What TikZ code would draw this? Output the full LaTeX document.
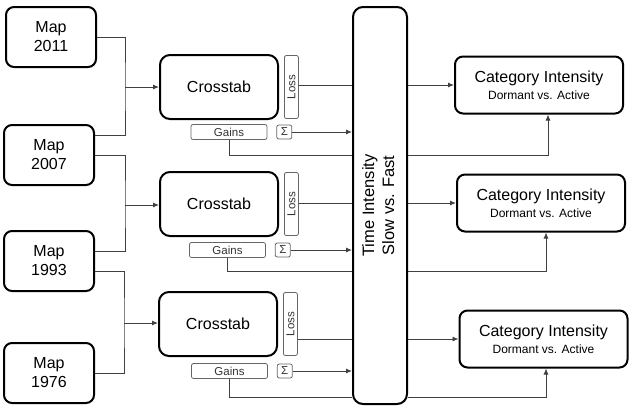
\documentclass[tikz,border=0pt]{standalone}
\usepackage{fontspec}
\setmainfont{Liberation Sans}
\usepackage{graphicx}
\usetikzlibrary{arrows.meta, positioning}

\begin{document}
\begin{tikzpicture}[
    x=1pt, y=-1pt,
    node distance=5pt,
    mapbox/.style={draw, line width=2pt, rounded corners=8pt, minimum width=90pt, minimum height=60pt, align=center, font=\fontsize{16}{19}\selectfont},
    tabbox/.style={draw, line width=2pt, rounded corners=10pt, minimum width=118pt, minimum height=64pt, font=\fontsize{16}{19}\selectfont},
    tag/.style={draw=black!60, line width=0.8pt, rounded corners=2pt, inner sep=1pt, font=\fontsize{11.5}{12}\selectfont, text=black!80},
    timebox/.style={draw, fill=white, line width=2pt, rounded corners=10pt, minimum width=54pt, minimum height=397pt, font=\fontsize{16.5}{20}\selectfont},
    catbox/.style={draw, line width=2pt, rounded corners=8pt, minimum width=168pt, minimum height=57pt, align=center, font=\fontsize{16}{17}\selectfont},
    link/.style={draw=black!75, line width=0.9pt},
    arr/.style={link, -{Latex[length=6pt, width=5pt]}}
]
\useasboundingbox (0,0) rectangle (631,408);

\node[mapbox] (map2011) at (51,37) {Map\\2011};
\node[mapbox] (map2007) at (49,155) {Map\\2007};
\node[mapbox] (map1993) at (49,261) {Map\\1993};
\node[mapbox] (map1976) at (49,373) {Map\\1976};

\node[tabbox] (tab1) at (219,87) {Crosstab};
\node[tabbox] (tab2) at (219,204) {Crosstab};
\node[tabbox] (tab3) at (218,324) {Crosstab};

\node[tag, minimum width=14pt, minimum height=63pt, right=of tab1] (loss1) {\rotatebox{90}{Loss}};
\node[tag, minimum width=14pt, minimum height=63pt, right=of tab2] (loss2) {\rotatebox{90}{Loss}};
\node[tag, minimum width=14pt, minimum height=63pt, right=of tab3] (loss3) {\rotatebox{90}{Loss}};

\node[tag, minimum width=76pt, minimum height=15pt] (gains1) at (229,132) {Gains};
\node[tag, minimum width=76pt, minimum height=15pt] (gains2) at (227.5,250) {Gains};
\node[tag, minimum width=76pt, minimum height=15pt] (gains3) at (229.5,371) {Gains};

\node[tag, minimum width=15pt, minimum height=14pt, right=9pt of gains1] (sum1) {Σ};
\node[tag, minimum width=15pt, minimum height=14pt, right=9pt of gains2] (sum2) {Σ};
\node[tag, minimum width=15pt, minimum height=14pt, right=9pt of gains3] (sum3) {Σ};

\node[timebox] (time) at (380,205.5) {\rotatebox{90}{\begin{tabular}{@{}c@{}}Time Intensity\\Slow vs. Fast\end{tabular}}};

\node[catbox] (cat1) at (539,85) {Category Intensity\\{\fontsize{12}{14}\selectfont Dormant vs. Active}};
\node[catbox] (cat2) at (541,203) {Category Intensity\\{\fontsize{12}{14}\selectfont Dormant vs. Active}};
\node[catbox] (cat3) at (543.5,339) {Category Intensity\\{\fontsize{12}{14}\selectfont Dormant vs. Active}};

\coordinate (j1) at (125,87);
\coordinate (j2) at (125,205);
\coordinate (j3) at (124,323);
\coordinate (g1) at (548,155);
\coordinate (g2) at (546,271);
\coordinate (g3) at (546,397);

% maps into crosstabs
\draw[link] (map2011.east) -| (j1) |- ([yshift=20pt]map2007.east);
\draw[arr] (j1) -- (j1 -| tab1.west);
\draw[link] (map2007.east) -| (j2) |- ([yshift=10pt]map1993.east);
\draw[arr] (j2) -- (j2 -| tab2.west);
\draw[link] ([yshift=-10pt]map1993.east) -| (j3) |- (map1976.east);
\draw[arr] (j3) -- (j3 -| tab3.west);

% loss, sum and gains
\draw[link] (loss1.east |- cat1) -- (time.west |- cat1);
\draw[link] (loss2.east |- cat2) -- (time.west |- cat2);
\draw[link] (loss3.east |- cat3) -- (time.west |- cat3);
\draw[arr] (sum1) -- (sum1 -| time.west);
\draw[arr] (sum2) -- (sum2 -| time.west);
\draw[arr] (sum3) -- (sum3 -| time.west);
\draw[link] (gains1.south) |- (time.west |- g1);
\draw[link] (gains2.south) |- (time.west |- g2);
\draw[link] (gains3.south) |- (time.west |- g3);

% into category intensity
\draw[arr] (time.east |- cat1) -- (cat1);
\draw[arr] (time.east |- cat2) -- (cat2);
\draw[arr] (time.east |- cat3) -- (cat3);
\draw[arr] (time.east |- g1) -| (g1 |- cat1.south);
\draw[arr] (time.east |- g2) -| (g2 |- cat2.south);
\draw[arr] (time.east |- g3) -| (g3 |- cat3.south);
\end{tikzpicture}
\end{document}
